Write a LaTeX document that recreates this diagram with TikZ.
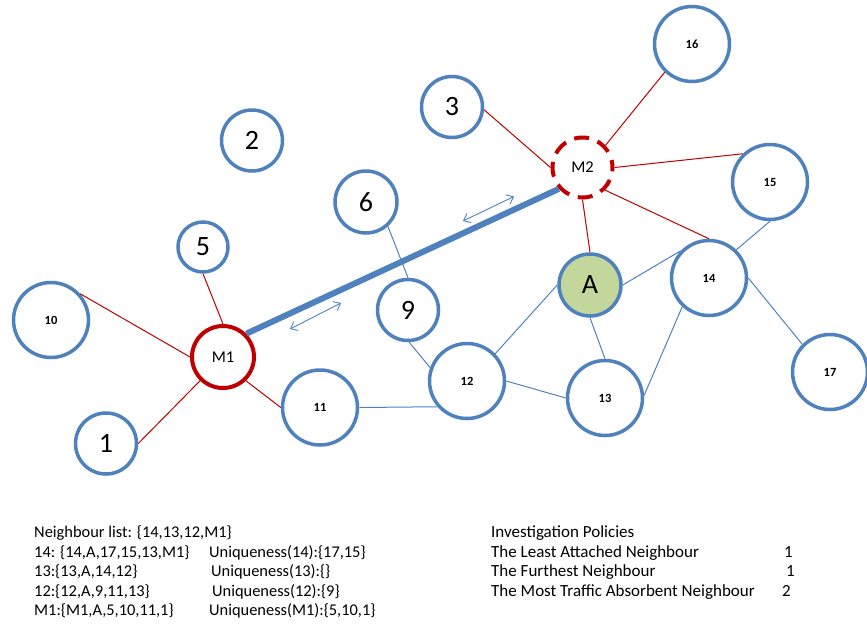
\documentclass[tikz,border=0pt]{standalone}
\usepackage{fontspec}
\setmainfont{Carlito}
\usetikzlibrary{arrows.meta}
\definecolor{nodeblue}{RGB}{79,129,189}
\definecolor{linkred}{RGB}{192,0,0}
\definecolor{agreen}{RGB}{195,214,155}
\begin{document}
\begin{tikzpicture}[x=1pt,y=-1pt,
  peer/.style={circle,draw=nodeblue,line width=3.5pt,fill=white,inner sep=0pt,
    minimum size=75pt,font=\fontsize{12.5}{14}\selectfont\bfseries},
  peermid/.style={peer,minimum size=61pt,font=\fontsize{28}{30}\selectfont},
  mobile/.style={circle,draw=linkred,line width=4pt,fill=white,inner sep=0pt,
    minimum size=62pt,font=\fontsize{16.5}{18}\selectfont},
  mobiledash/.style={mobile,dash pattern=on 15pt off 9pt,dash phase=7.5pt,minimum size=60pt},
  redlink/.style={draw=linkred,line width=1pt},
  bluelink/.style={draw=nodeblue,line width=1pt},
  trunk/.style={draw=nodeblue,line width=6pt},
  flow/.style={draw=nodeblue,line width=0.9pt,
    {Straight Barb[length=6pt,width=10pt]}-{Straight Barb[length=6pt,width=10pt]}},
  txt/.style={anchor=base west,inner sep=0pt,font=\fontsize{16.4}{19.5}\selectfont},
  ptxt/.style={txt,font=\fontsize{17}{19.5}\selectfont}
]
\useasboundingbox (0,0) rectangle (867,625);

% peers
\node[peer] (n16) at (692,44) {16};
\node[peermid] (n3) at (452,107) {3};
\node[peermid] (n2) at (252,140.5) {2};
\node[peer] (n15) at (770,182) {15};
\node[peermid,minimum size=62pt] (n6) at (366,202) {6};
\node[peermid,minimum size=50pt] (n5) at (203,247) {5};
\node[peer] (n14) at (709,278) {14};
\node[peermid,fill=agreen,minimum size=62pt] (nA) at (590,285) {A};
\node[peer] (n10) at (51,320) {10};
\node[peermid] (n9) at (408,310) {9};
\node[peer] (n12) at (467,381) {12};
\node[peer] (n13) at (605,398) {13};
\node[peer] (n11) at (320,407.5) {11};
\node[peer] (n17) at (830,372) {17};
\node[peermid] (n1) at (106,443.5) {1};

% mobile agents
\node[mobile] (m1) at (223,357) {M1};
\node[mobiledash] (m2) at (582.5,167.5) {M2};

% links of M1
\draw[redlink] (n10.42) -- (m1.west);
\draw[redlink] (n5.south) -- (m1.north);
\draw[redlink] (n1.east) -- (m1.226);
\draw[redlink] (m1.-46) -- (n11.west);

% links of M2
\draw[redlink] (n3.-5) -- (m2.west);
\draw[redlink] (n16.226) -- (m2.44);
\draw[redlink] (n15.134) -- (m2.east);
\draw[redlink] (m2.-45) -- (n14.north);
\draw[redlink] (m2.south) -- (nA.north);

% links between peers
\draw[bluelink] (n6.-48) -- (n9.north);
\draw[bluelink] (n9.-88) -- (n12.160);
\draw[bluelink] (n11.east) -- (n12.221);
\draw[bluelink] (n12.44) -- (nA.west);
\draw[bluelink] (n12.east) -- (n13.west);
\draw[bluelink] (nA.south) -- (n13.north);
\draw[bluelink] (nA.east) -- (n14.136);
\draw[bluelink] (n13.4) -- (n14.227);
\draw[bluelink] (n14.46) -- (n15.south);
\draw[bluelink] (n14.east) -- (n17.135);

% agent to agent channel
\draw[trunk] (m1.45) -- (m2.222);
\coordinate (fa1) at (463,221);
\coordinate (fa2) at (514,196.5);
\coordinate (fb1) at (290,329);
\coordinate (fb2) at (341,303);
\draw[flow] (fa1) -- (fa2);
\draw[flow] (fb1) -- (fb2);

% neighbour lists
\node[txt] (l1) at (34,537.5) {Neighbour list: \{14,13,12,M1\}};
\node[txt] (l2) at (34,557) {14: \{14,A,17,15,13,M1\}};
\node[txt] (l3) at (34,576.5) {13:\{13,A,14,12\}};
\node[txt] (l4) at (34,596) {12:\{12,A,9,11,13\}};
\node[txt] (l5) at (34,615.5) {M1:\{M1,A,5,10,11,1\}};
\node[txt] (u2) at (209,557) {Uniqueness(14):\{17,15\}};
\node[txt] (u3) at (211,576.5) {Uniqueness(13):\{\}};
\node[txt] (u4) at (212,596) {Uniqueness(12):\{9\}};
\node[txt] (u5) at (209,615.5) {Uniqueness(M1):\{5,10,1\}};

% policies
\node[ptxt] (p1) at (491,537.5) {Investigation Policies};
\node[ptxt] (p2) at (491,557) {The Least Attached Neighbour};
\node[ptxt] (p3) at (491,576.5) {The Furthest Neighbour};
\node[ptxt] (p4) at (491,596) {The Most Traffic Absorbent Neighbour};
\node[ptxt] (v2) at (784,557) {1};
\node[ptxt] (v3) at (786,576.5) {1};
\node[ptxt] (v4) at (782,596) {2};
\end{tikzpicture}
\end{document}
